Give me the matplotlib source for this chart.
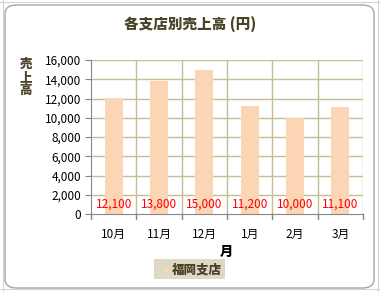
import matplotlib
matplotlib.use("Agg")
import matplotlib.pyplot as plt
from matplotlib.patches import FancyBboxPatch, Rectangle
from matplotlib.lines import Line2D

plt.rcParams['font.family'] = ['Noto Sans CJK JP', 'DejaVu Sans']

months = ['10月', '11月', '12月', '1月', '2月', '3月']
sales = [12100, 13800, 15000, 11200, 10000, 11100]
yticks = [0, 2000, 4000, 6000, 8000, 10000, 12000, 14000, 16000]
title = '各支店別売上高 (円)'
ylabel = '売\n上\n高'
xlabel = '月'
series_name = '福岡支店'

W, H = 380, 292
fig = plt.figure(figsize=(W / 100, H / 100), dpi=100)
fig.patch.set_facecolor('white')

# spreadsheet gridlines in background
for x in [3, 378]:
    fig.add_artist(Line2D([x / W, x / W], [0, 1], color='#d4d4d4', lw=0.8))
for y in [2, 289]:
    fig.add_artist(Line2D([0, 1], [1 - y / H, 1 - y / H], color='#d4d4d4', lw=0.8))

# chart area
fig.add_artist(FancyBboxPatch((5 / W, 4 / H), 369 / W, 283 / H,
                              boxstyle='round,pad=0,rounding_size=0.03',
                              transform=fig.transFigure, facecolor='white',
                              edgecolor='#a6a6a6', lw=1.0, zorder=0))

left, right, top, bottom = 91, 363, 60, 214
ax = fig.add_axes([left / W, 1 - bottom / H, (right - left) / W, (bottom - top) / H])
ax.set_facecolor('none')

x = list(range(len(months)))
ax.bar(x, sales, width=0.4, color='#fcd5b5', zorder=2)
for xi, v in zip(x, sales):
    ax.text(xi, 1050, f'{v:,}', color='#ff0000', ha='center', va='center',
            fontsize=8.5, zorder=3)

ax.set_xlim(-0.5, len(months) - 0.5)
ax.set_ylim(0, 16000)
ax.set_yticks(yticks)
ax.set_yticklabels([f'{t:,}' for t in yticks], fontsize=8.5, color='#000000')
ax.set_xticks(x)
ax.set_xticklabels(months, fontsize=8.5, color='#000000')
ax.tick_params(axis='x', length=0, pad=10)
ax.tick_params(axis='y', length=4, color='#868686', pad=3)

# gridlines
for t in yticks[1:]:
    ax.axhline(t, color='#c4bd97', lw=1.0, zorder=1)
for b in [i + 0.5 for i in range(len(months))]:
    ax.axvline(b, color='#c4bd97', lw=1.0, zorder=1)
# x-axis tick marks at category boundaries
for b in [i - 0.5 for i in range(len(months) + 1)]:
    ax.plot([b, b], [0, -500], color='#868686', lw=1.0, clip_on=False, zorder=3)

for s in ['top', 'right']:
    ax.spines[s].set_visible(False)
ax.spines['left'].set_color('#868686')
ax.spines['bottom'].set_color('#868686')
ax.spines['left'].set_zorder(3)
ax.spines['bottom'].set_zorder(3)

fig.text(190 / W, 1 - 25 / H, title, ha='center', va='center', fontsize=10.5,
         fontweight='heavy', color='#4a4329')
fig.text(26 / W, 1 - 77 / H, ylabel, ha='center', va='center', fontsize=9,
         fontweight='heavy', color='#4a4329', linespacing=1.12)
fig.text(226 / W, 1 - 252 / H, xlabel, ha='center', va='center', fontsize=9.5,
         fontweight='heavy', color='#000000')

# legend box
fig.add_artist(Rectangle((154 / W, 1 - 279 / H), 71 / W, 20 / H,
                         transform=fig.transFigure, facecolor='#ddd9c4',
                         edgecolor='none', zorder=1))
fig.add_artist(Rectangle((164 / W, 1 - 272 / H), 5 / W, 5 / H,
                         transform=fig.transFigure, facecolor='#fcd5b5',
                         edgecolor='none', zorder=2))
fig.text(172 / W, 1 - 269.5 / H, series_name, ha='left', va='center', fontsize=9,
         fontweight='heavy', color='#4a4329')

fig.savefig('out.png', dpi=100)
